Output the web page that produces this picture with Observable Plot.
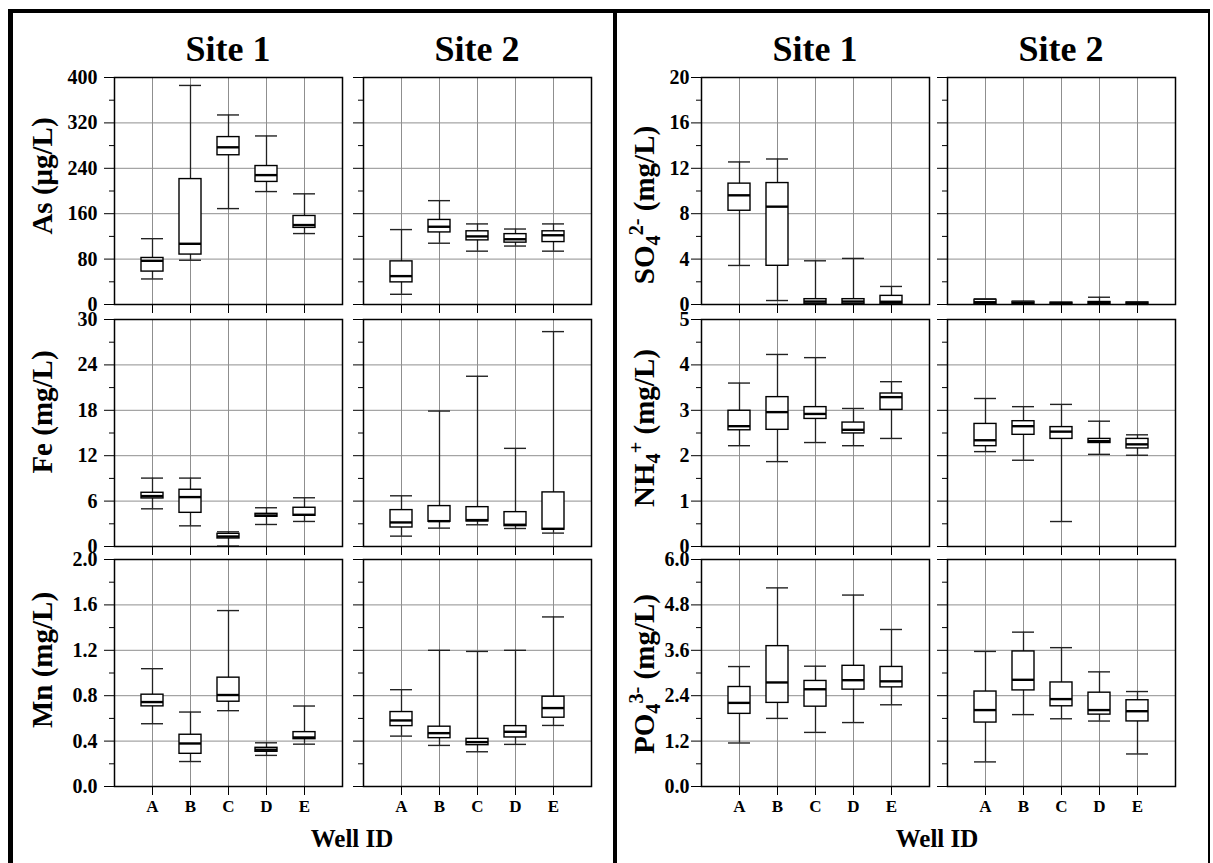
<!DOCTYPE html>
<html>
<head>
<meta charset="utf-8">
<script src="https://cdn.jsdelivr.net/npm/d3@7"></script>
<script src="https://cdn.jsdelivr.net/npm/@observablehq/plot@0.6"></script>
<style>
  body { margin: 0; background: #fff; }
  #root { position: relative; width: 1213px; height: 863px; overflow: hidden; background: #fff;
          font-family: 'Liberation Serif', 'Times New Roman', serif; font-weight: bold; color: #000; }
  .title { position: absolute; font-size: 36px; line-height: 36px; transform: translateX(-50%); white-space: nowrap; }
  .xlab { position: absolute; font-size: 25px; line-height: 25px; transform: translateX(-50%); white-space: nowrap; }
  .ylab { position: absolute; font-size: 29px; line-height: 29px; white-space: nowrap;
          transform: translate(-50%, -50%) rotate(-90deg); }
  .ylab sub, .ylab sup { font-size: 0.7em; line-height: 0; }
  .panel { position: absolute; }
  .frameBox { position: absolute; left: 8px; top: 9px; width: 1195px; height: 900px;
              border-left: 5px solid #000; border-top: 4px solid #000; border-right: 2px solid #000; }
  .divider { position: absolute; left: 613px; top: 9px; width: 4px; height: 900px; background: #000; }
</style>
</head>
<body>
<div id="root">
  <div class="frameBox"></div>
  <div class="divider"></div>
  <div class="title" style="left:228px; top:31px;">Site 1</div>
  <div class="title" style="left:477px; top:31px;">Site 2</div>
  <div class="title" style="left:815px; top:31px;">Site 1</div>
  <div class="title" style="left:1061px; top:31px;">Site 2</div>
  <div class="xlab" style="left:352px; top:826px;">Well ID</div>
  <div class="xlab" style="left:937px; top:826px;">Well ID</div>
  <div class="ylab" style="left:42px; top:176px;">As (μg/L)</div>
  <div class="ylab" style="left:42px; top:412px;">Fe (mg/L)</div>
  <div class="ylab" style="left:42px; top:660px;">Mn (mg/L)</div>
  <div class="ylab" style="left:644px; top:205px;">SO<sub>4</sub><sup>2-</sup> (mg/L)</div>
  <div class="ylab" style="left:644px; top:428px;">NH<sub>4</sub><sup>+</sup> (mg/L)</div>
  <div class="ylab" style="left:644px; top:674px;">PO<sub>4</sub><sup>3-</sup> (mg/L)</div>
</div>
<script>
// Well IDs
const wells = ["A", "B", "C", "D", "E"];

// Each row: [lower whisker, Q1, median, Q3, upper whisker] for wells A..E
const asSite1 = [[45, 58, 77, 82, 116], [78, 88, 107, 221, 386], [169, 263, 277, 295, 334], [199, 216, 228, 244, 297], [125, 135, 140, 156, 195]];
const asSite2 = [[18, 39, 50, 76, 132], [108, 127, 137, 149, 183], [94, 113, 120, 129, 142], [103, 109, 115, 124, 133], [94, 110, 122, 129, 142]];
const feSite1 = [[4.98, 6.35, 6.66, 7.1, 9.04], [2.73, 4.45, 6.53, 7.5, 9.04], [0.05, 1.06, 1.32, 1.68, 1.94], [2.91, 3.93, 4.1, 4.32, 5.12], [3.31, 4.06, 4.19, 5.12, 6.44]];
const feSite2 = [[1.37, 2.51, 3.18, 4.81, 6.7], [2.43, 3.27, 3.35, 5.34, 17.9], [2.87, 3.31, 3.49, 5.2, 22.5], [2.38, 2.69, 2.87, 4.54, 12.97], [1.77, 2.22, 2.34, 7.15, 28.4]];
const mnSite1 = [[0.553, 0.706, 0.744, 0.809, 1.038], [0.22, 0.288, 0.379, 0.456, 0.656], [0.668, 0.747, 0.806, 0.959, 1.55], [0.274, 0.306, 0.324, 0.341, 0.385], [0.373, 0.417, 0.432, 0.479, 0.709]];
const mnSite2 = [[0.444, 0.532, 0.582, 0.656, 0.853], [0.362, 0.426, 0.47, 0.527, 1.2], [0.306, 0.364, 0.391, 0.42, 1.19], [0.371, 0.432, 0.482, 0.532, 1.2], [0.538, 0.606, 0.691, 0.791, 1.494]];
const so4Site1 = [[3.44, 8.26, 9.62, 10.65, 12.56], [0.35, 3.41, 8.62, 10.7, 12.82], [0.02, 0.06, 0.26, 0.47, 3.85], [0.02, 0.05, 0.26, 0.47, 4.06], [0.02, 0.06, 0.24, 0.76, 1.59]];
const so4Site2 = [[0.02, 0.05, 0.2, 0.42, 0.5], [0.02, 0.04, 0.12, 0.24, 0.28], [0.01, 0.03, 0.1, 0.16, 0.2], [0.02, 0.04, 0.12, 0.22, 0.64], [0.01, 0.03, 0.1, 0.18, 0.22]];
const nh4Site1 = [[2.22, 2.56, 2.65, 2.99, 3.6], [1.87, 2.57, 2.96, 3.29, 4.23], [2.29, 2.81, 2.92, 3.07, 4.16], [2.22, 2.49, 2.57, 2.73, 3.04], [2.38, 3.01, 3.29, 3.37, 3.63]];
const nh4Site2 = [[2.09, 2.21, 2.34, 2.7, 3.26], [1.9, 2.46, 2.65, 2.76, 3.08], [0.55, 2.37, 2.53, 2.63, 3.13], [2.03, 2.28, 2.32, 2.37, 2.76], [2.01, 2.16, 2.25, 2.37, 2.46]];
const po4Site1 = [[1.15, 1.92, 2.21, 2.63, 3.17], [1.8, 2.21, 2.75, 3.71, 5.25], [1.43, 2.11, 2.57, 2.79, 3.18], [1.69, 2.56, 2.81, 3.19, 5.06], [2.16, 2.62, 2.78, 3.16, 4.15]];
const po4Site2 = [[0.65, 1.69, 2.02, 2.51, 3.57], [1.9, 2.54, 2.82, 3.57, 4.08], [1.79, 2.12, 2.31, 2.75, 3.67], [1.73, 1.9, 2.02, 2.48, 3.03], [0.86, 1.72, 1.99, 2.28, 2.51]];

// Axis tick values
const asTicks = [0, 80, 160, 240, 320, 400];
const feTicks = [0, 6, 12, 18, 24, 30];
const mnTicks = [0, 0.4, 0.8, 1.2, 1.6, 2.0];
const so4Ticks = [0, 4, 8, 12, 16, 20];
const nh4Ticks = [0, 1, 2, 3, 4, 5];
const po4Ticks = [0, 1.2, 2.4, 3.6, 4.8, 6.0];

const fmtInt = d => String(d);
const fmt1 = d => d.toFixed(1);
const none = () => "";

const W = 228, H = 227;
const root = document.getElementById("root");

function panel({rows, ticks, fmt, left, top, showY, showX, pad}) {
  const ml = 60, mr = 6, mt = 14, mb = showX ? 45 : 14;
  const data = rows.map((r, i) => ({well: wells[i], lo: r[0], q1: r[1], med: r[2], q3: r[3], hi: r[4]}));
  const minors = d3.pairs(ticks, (a, b) => (a + b) / 2);
  const grid = "#8f8f8f";
  const svg = Plot.plot({
    width: ml + W + mr, height: mt + H + mb,
    marginLeft: ml, marginRight: mr, marginTop: mt, marginBottom: mb,
    style: {background: "transparent", overflow: "visible", maxWidth: "none",
            fontFamily: "'Liberation Serif', 'Times New Roman', serif", fontWeight: "bold"},
    x: {type: "band", domain: wells, paddingInner: 0.42, paddingOuter: 0.71, label: null},
    y: {domain: [ticks[0], ticks[ticks.length - 1]], label: null},
    marks: [
      Plot.gridY({ticks: ticks, stroke: grid, strokeOpacity: 1, strokeWidth: 1}),
      Plot.gridX({stroke: grid, strokeOpacity: 1, strokeWidth: 1}),
      Plot.axisY({ticks: ticks, tickSize: 10, tickPadding: pad, tickFormat: showY ? fmt : none,
                  fontSize: 20, fontWeight: "bold", label: null, stroke: "black"}),
      Plot.axisY({ticks: minors, tickSize: 5, tickFormat: none, label: null, stroke: "black"}),
      Plot.axisX({tickSize: 9, tickPadding: 4, tickFormat: showX ? (d => d) : none,
                  fontSize: 17, fontWeight: "bold", label: null, stroke: "black"}),
      Plot.ruleX(data, {x: "well", y1: "lo", y2: "hi", stroke: "#222", strokeWidth: 1.3}),
      Plot.barY(data, {x: "well", y1: "q1", y2: "q3", fill: "white", stroke: "black", strokeWidth: 1.4}),
      Plot.tickY(data, {x: "well", y: "hi", stroke: "#222", strokeWidth: 1.4}),
      Plot.tickY(data, {x: "well", y: "lo", stroke: "#222", strokeWidth: 1.4}),
      Plot.tickY(data, {x: "well", y: "med", stroke: "black", strokeWidth: 2.4}),
      Plot.frame({stroke: "black", strokeWidth: 1.5})
    ]
  });
  const div = document.createElement("div");
  div.className = "panel";
  div.style.left = (left - ml) + "px";
  div.style.top = (top - mt) + "px";
  div.appendChild(svg);
  root.appendChild(div);
}

const rowsTop = [77, 319, 559];
const leftCols = [114, 363];
const rightCols = [701, 947];

const layout = [
  [asSite1, asSite2, asTicks, fmtInt, leftCols, 0, 7],
  [feSite1, feSite2, feTicks, fmtInt, leftCols, 1, 7],
  [mnSite1, mnSite2, mnTicks, fmt1, leftCols, 2, 7],
  [so4Site1, so4Site2, so4Ticks, fmtInt, rightCols, 0, 2],
  [nh4Site1, nh4Site2, nh4Ticks, fmtInt, rightCols, 1, 2],
  [po4Site1, po4Site2, po4Ticks, fmt1, rightCols, 2, 2]
];

for (const [s1, s2, ticks, fmt, cols, r, pad] of layout) {
  panel({rows: s1, ticks, fmt, left: cols[0], top: rowsTop[r], showY: true, showX: r === 2, pad});
  panel({rows: s2, ticks, fmt, left: cols[1], top: rowsTop[r], showY: false, showX: r === 2, pad});
}
</script>
</body>
</html>
